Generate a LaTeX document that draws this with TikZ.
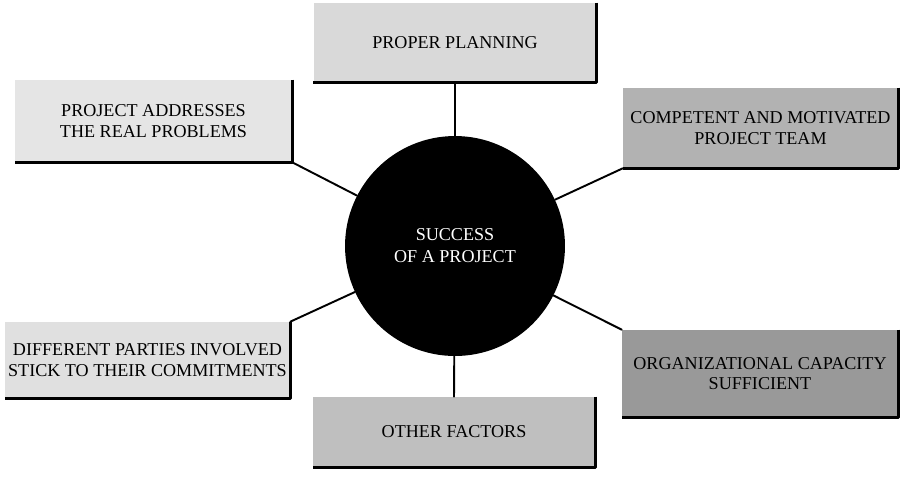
\documentclass[tikz,border=0pt]{standalone}
\usepackage{fontspec}
\setmainfont{Liberation Serif}
\begin{document}
\begin{tikzpicture}[x=0.02cm, y=-0.02cm, line join=round, line cap=round,
	factor/.style={rectangle, inner sep=0pt, align=center, fill=black!15,
		font=\fontsize{10.3}{11.5}\selectfont},
	core/.style={circle, fill=black, text=white, inner sep=0pt, minimum size=4.4cm,
		align=center, font=\fontsize{10.3}{12.5}\selectfont},
	link/.style={line width=1.1pt}]
	\useasboundingbox (0,0) rectangle (901,485);
	% centre
	\node[core] (succ) at (455,246) {SUCCESS\\OF A PROJECT};
	% factors
	\node[factor, minimum width=5.66cm, minimum height=1.58cm] (plan) at (455,42.5) {PROPER PLANNING};
	\node[factor, fill=black!10, minimum width=5.54cm, minimum height=1.64cm] (addr) at (153.5,121) {PROJECT ADDRESSES\\THE REAL PROBLEMS};
	\node[factor, fill=black!30, minimum width=5.5cm, minimum height=1.6cm] (team) at (760.5,128) {COMPETENT AND MOTIVATED\\PROJECT TEAM};
	\node[factor, fill=black!12, minimum width=5.7cm, minimum height=1.52cm] (parties) at (147.5,360) {DIFFERENT PARTIES INVOLVED\\STICK TO THEIR COMMITMENTS};
	\node[factor, fill=black!40, minimum width=5.52cm, minimum height=1.74cm] (org) at (760,373.5) {ORGANIZATIONAL CAPACITY\\SUFFICIENT};
	\node[factor, fill=black!25, minimum width=5.64cm, minimum height=1.4cm] (other) at (454,432) {OTHER FACTORS};
	% shadow edges
	\foreach \n in {plan,addr,team,parties,org,other}
	\draw[line width=1.8pt, line cap=butt] (\n.north east) -- (\n.south east) -- (\n.south west);
	% connectors
	\draw[link] (succ) -- (plan.south);
	\draw[link] (succ) -- (addr.south east);
	\draw[link] (succ) -- (team.south west);
	\draw[link] (succ) -- (parties.north east);
	\draw[link] (succ) -- (org.north west);
	\draw[link] (succ) -- (other.north);
\end{tikzpicture}
\end{document}
